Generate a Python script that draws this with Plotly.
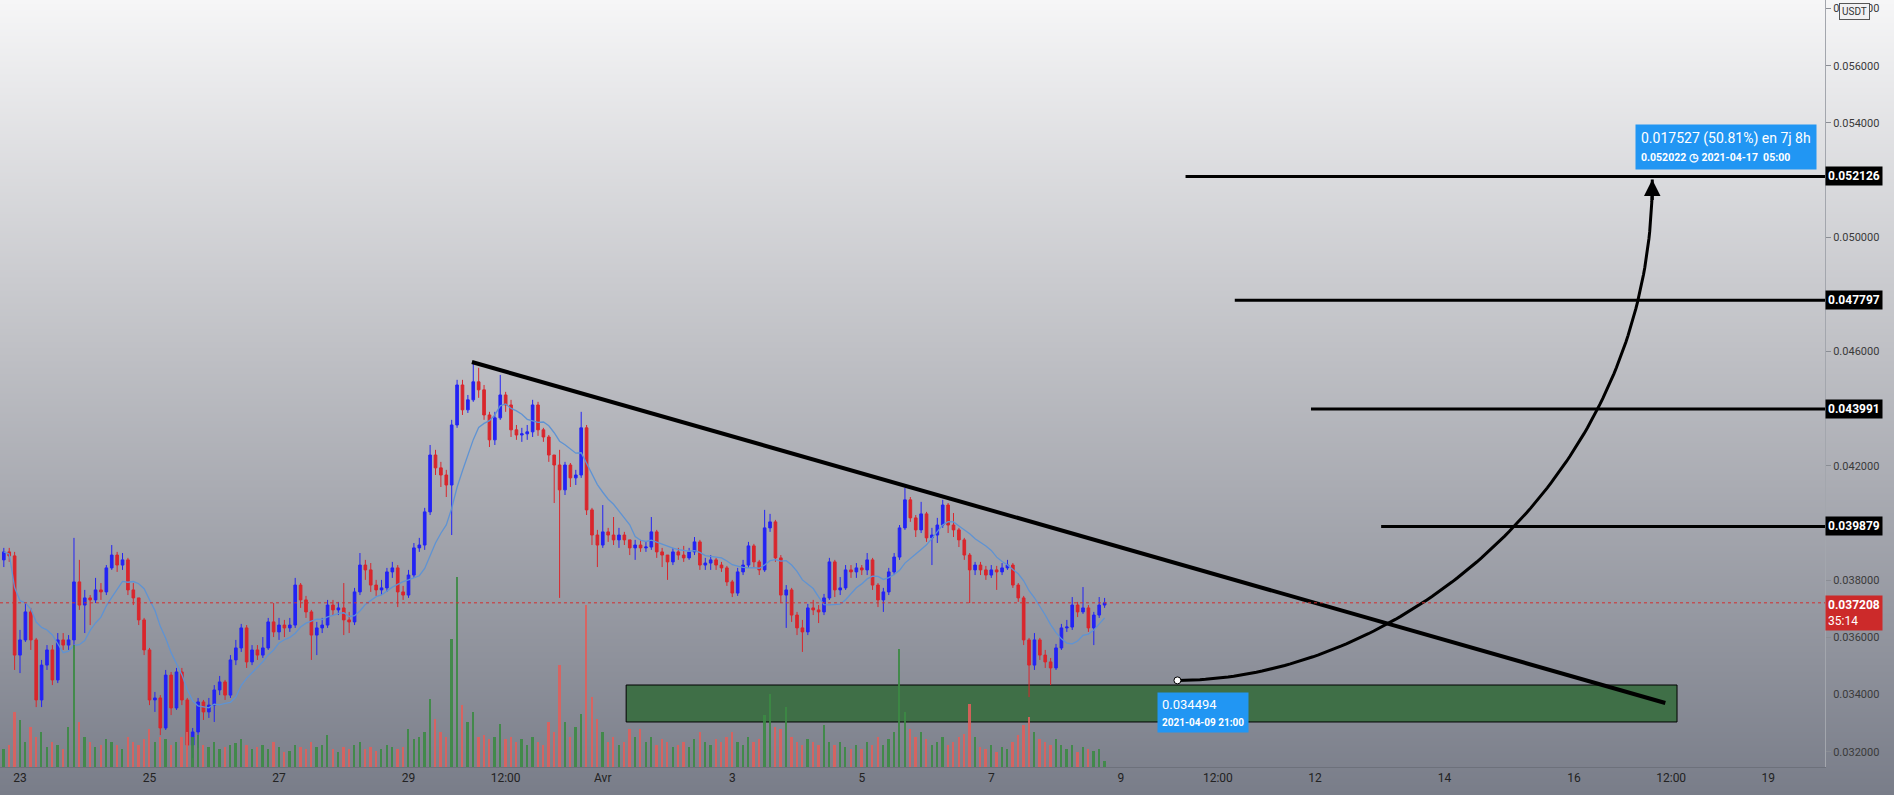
import base64
import struct
import zlib

import numpy as np
import pandas as pd
import plotly.graph_objects as go

# ---------------- data (2-hour candles) ----------------
candle_start = "2021-03-22 18:00"
first_open = 0.03871

close = [
    0.03899, 0.03885, 0.03538, 0.03591, 0.03689, 0.03591, 0.03381, 0.03503, 0.03556, 0.03451,
    0.03591, 0.03573, 0.03591, 0.03794, 0.03713, 0.03738, 0.03731, 0.03766, 0.03759, 0.03843,
    0.03888, 0.03853, 0.03871, 0.03766, 0.03738, 0.03661, 0.03556, 0.03381, 0.03388, 0.03283,
    0.03468, 0.03353, 0.03479, 0.03381, 0.03223, 0.03269, 0.03374, 0.03339, 0.03363, 0.03416,
    0.03444, 0.03398, 0.03521, 0.03563, 0.03633, 0.03514, 0.03556, 0.03538, 0.03563, 0.03654,
    0.03619, 0.03643, 0.03633, 0.03643, 0.03783, 0.03731, 0.03689, 0.03608, 0.03633, 0.03643,
    0.03713, 0.03696, 0.03703, 0.03661, 0.03654, 0.03759, 0.03853, 0.03836, 0.03783, 0.03766,
    0.03773, 0.03829, 0.03843, 0.03759, 0.03748, 0.03818, 0.03913, 0.03923, 0.04039, 0.04238,
    0.04193, 0.04168, 0.04133, 0.04343, 0.04483, 0.04396, 0.04431, 0.04494, 0.04466, 0.04378,
    0.04291, 0.04368, 0.04448, 0.04413, 0.04326, 0.04308, 0.04312, 0.04319, 0.04413, 0.04326,
    0.04301, 0.04238, 0.04203, 0.04116, 0.04203, 0.04158, 0.04168, 0.04333, 0.04046, 0.03958,
    0.03923, 0.03969, 0.03958, 0.03941, 0.03958, 0.03941, 0.03913, 0.03923, 0.03913, 0.03916,
    0.03969, 0.03899, 0.03888, 0.03864, 0.03899, 0.03888, 0.03878, 0.03899, 0.03934, 0.03853,
    0.03860, 0.03871, 0.03853, 0.03843, 0.03794, 0.03755, 0.03829, 0.03853, 0.03920, 0.03864,
    0.03836, 0.03983, 0.04004, 0.03878, 0.03748, 0.03766, 0.03678, 0.03633, 0.03619, 0.03703,
    0.03696, 0.03689, 0.03738, 0.03864, 0.03766, 0.03773, 0.03836, 0.03829, 0.03843, 0.03836,
    0.03871, 0.03783, 0.03731, 0.03759, 0.03829, 0.03881, 0.03983, 0.04081, 0.04018, 0.03976,
    0.04032, 0.03948, 0.03958, 0.03993, 0.04063, 0.03993, 0.03976, 0.03941, 0.03888, 0.03836,
    0.03853, 0.03836, 0.03818, 0.03836, 0.03829, 0.03843, 0.03853, 0.03783, 0.03738, 0.03591,
    0.03503, 0.03591, 0.03538, 0.03514, 0.03493, 0.03563, 0.03633, 0.03636, 0.03713, 0.03689,
    0.03703, 0.03633, 0.03678, 0.03713, 0.037208,
]

high = [
    0.03913, 0.03913, 0.03899, 0.03626, 0.03720, 0.03703, 0.03598, 0.03521, 0.03573, 0.03573,
    0.03615, 0.03615, 0.03608, 0.03948, 0.03871, 0.03766, 0.03748, 0.03808, 0.03790, 0.03853,
    0.03923, 0.03899, 0.03895, 0.03878, 0.03790, 0.03738, 0.03668, 0.03563, 0.03409, 0.03398,
    0.03486, 0.03479, 0.03493, 0.03493, 0.03388, 0.03283, 0.03388, 0.03381, 0.03388, 0.03433,
    0.03465, 0.03451, 0.03538, 0.03591, 0.03647, 0.03643, 0.03573, 0.03573, 0.03601, 0.03668,
    0.03720, 0.03668, 0.03661, 0.03668, 0.03808, 0.03790, 0.03745, 0.03696, 0.03654, 0.03668,
    0.03731, 0.03731, 0.03724, 0.03790, 0.03689, 0.03773, 0.03895, 0.03871, 0.03860, 0.03801,
    0.03801, 0.03843, 0.03864, 0.03853, 0.03780, 0.03836, 0.03930, 0.03948, 0.04053, 0.04273,
    0.04256, 0.04214, 0.04186, 0.04361, 0.04501, 0.04501, 0.04448, 0.04564, 0.04543, 0.04483,
    0.04389, 0.04389, 0.04518, 0.04459, 0.04431, 0.04343, 0.04333, 0.04343, 0.04431, 0.04424,
    0.04333, 0.04308, 0.04238, 0.04256, 0.04214, 0.04210, 0.04186, 0.04389, 0.04343, 0.04053,
    0.03976, 0.04063, 0.03983, 0.04021, 0.03983, 0.03969, 0.03941, 0.03941, 0.03941, 0.03934,
    0.04021, 0.03976, 0.03913, 0.03888, 0.03913, 0.03913, 0.03920, 0.03913, 0.03951, 0.03941,
    0.03878, 0.03888, 0.03878, 0.03864, 0.03850, 0.03801, 0.03843, 0.03871, 0.03934, 0.03927,
    0.03871, 0.04046, 0.04032, 0.04011, 0.03888, 0.03783, 0.03773, 0.03689, 0.03661, 0.03717,
    0.03731, 0.03713, 0.03752, 0.03878, 0.03871, 0.03811, 0.03853, 0.03853, 0.03860, 0.03853,
    0.03895, 0.03878, 0.03790, 0.03773, 0.03843, 0.03895, 0.03993, 0.04123, 0.04091, 0.04028,
    0.04074, 0.04039, 0.03983, 0.04018, 0.04081, 0.04070, 0.04035, 0.03983, 0.03948, 0.03895,
    0.03864, 0.03864, 0.03850, 0.03853, 0.03850, 0.03860, 0.03871, 0.03860, 0.03790, 0.03745,
    0.03598, 0.03615, 0.03598, 0.03556, 0.03528, 0.03577, 0.03647, 0.03661, 0.03741, 0.03724,
    0.03776, 0.03713, 0.03689, 0.03741, 0.03738,
]

low = [
    0.03846, 0.03864, 0.03486, 0.03475, 0.03584, 0.03556, 0.03356, 0.03356, 0.03486, 0.03433,
    0.03440, 0.03556, 0.03556, 0.03573, 0.03696, 0.03615, 0.03643, 0.03720, 0.03731, 0.03748,
    0.03836, 0.03829, 0.03836, 0.03748, 0.03713, 0.03643, 0.03538, 0.03363, 0.03339, 0.03258,
    0.03276, 0.03328, 0.03346, 0.03363, 0.03206, 0.03178, 0.03213, 0.03311, 0.03318, 0.03304,
    0.03398, 0.03381, 0.03388, 0.03503, 0.03549, 0.03493, 0.03503, 0.03521, 0.03528, 0.03556,
    0.03601, 0.03591, 0.03601, 0.03619, 0.03633, 0.03703, 0.03668, 0.03521, 0.03538, 0.03615,
    0.03633, 0.03678, 0.03678, 0.03608, 0.03615, 0.03643, 0.03748, 0.03801, 0.03759, 0.03745,
    0.03748, 0.03759, 0.03808, 0.03706, 0.03731, 0.03738, 0.03808, 0.03899, 0.03906, 0.04028,
    0.04168, 0.04126, 0.04091, 0.03958, 0.04333, 0.04378, 0.04385, 0.04424, 0.04438, 0.04361,
    0.04266, 0.04273, 0.04361, 0.04389, 0.04301, 0.04291, 0.04284, 0.04291, 0.04301, 0.04305,
    0.04284, 0.04214, 0.04070, 0.03738, 0.04098, 0.04126, 0.04133, 0.04158, 0.04028, 0.03923,
    0.03846, 0.03913, 0.03934, 0.03923, 0.03913, 0.03923, 0.03888, 0.03871, 0.03899, 0.03899,
    0.03906, 0.03878, 0.03846, 0.03801, 0.03853, 0.03871, 0.03864, 0.03871, 0.03888, 0.03836,
    0.03836, 0.03836, 0.03836, 0.03829, 0.03780, 0.03741, 0.03745, 0.03818, 0.03843, 0.03843,
    0.03818, 0.03829, 0.03969, 0.03864, 0.03720, 0.03633, 0.03654, 0.03608, 0.03549, 0.03608,
    0.03678, 0.03650, 0.03678, 0.03731, 0.03741, 0.03748, 0.03766, 0.03808, 0.03808, 0.03818,
    0.03818, 0.03766, 0.03706, 0.03689, 0.03748, 0.03818, 0.03871, 0.03976, 0.04004, 0.03951,
    0.03965, 0.03934, 0.03853, 0.03930, 0.03983, 0.03965, 0.03951, 0.03916, 0.03871, 0.03720,
    0.03818, 0.03818, 0.03801, 0.03808, 0.03766, 0.03818, 0.03836, 0.03773, 0.03724, 0.03573,
    0.03391, 0.03486, 0.03521, 0.03493, 0.03433, 0.03486, 0.03556, 0.03619, 0.03626, 0.03671,
    0.03682, 0.03619, 0.03573, 0.03668, 0.03703,
]

volume = [
    18, 22, 55, 47, 25, 40, 30, 35, 20, 25, 22, 18, 40, 122, 45, 30, 25, 20, 22, 28,
    25, 22, 18, 30, 25, 22, 28, 38, 25, 30, 28, 22, 25, 30, 35, 30, 32, 22, 20, 25,
    18, 20, 22, 24, 28, 22, 18, 20, 22, 18, 25, 20, 15, 16, 22, 20, 18, 25, 20, 22,
    32, 18, 15, 20, 18, 22, 25, 18, 20, 16, 18, 22, 20, 18, 20, 38, 28, 30, 35, 68,
    48, 35, 30, 128, 190, 62, 45, 55, 30, 32, 28, 30, 43, 28, 30, 25, 28, 22, 30, 25,
    22, 45, 35, 102, 45, 30, 40, 53, 162, 70, 48, 35, 25, 30, 22, 25, 38, 30, 38, 25,
    30, 22, 28, 25, 20, 22, 25, 20, 28, 35, 25, 22, 28, 25, 30, 35, 25, 22, 30, 25,
    28, 52, 73, 40, 38, 60, 30, 25, 22, 28, 25, 22, 42, 25, 22, 25, 20, 18, 22, 18,
    25, 22, 30, 22, 28, 35, 118, 55, 38, 30, 35, 28, 22, 25, 30, 22, 25, 30, 33, 63,
    30, 20, 18, 22, 15, 20, 18, 25, 32, 42, 50, 35, 28, 25, 22, 28, 22, 18, 22, 15,
    20, 18, 16, 18, 6,
]

last_price = 0.037208
last_timer = "35:14"

# drawings
level_prices = [0.052126, 0.047797, 0.043991, 0.039879]
level_starts = ["2021-04-10 00:00", "2021-04-10 18:15", "2021-04-11 22:30", "2021-04-13 00:30"]
trend_x = ["2021-03-29 23:30", "2021-04-17 09:50"]
trend_y = [0.045634, 0.033704]
zone_x = ["2021-04-01 08:40", "2021-04-17 14:10"]
zone_y = [0.033039, 0.034333]
proj_x = ["2021-04-09 21:00", "2021-04-13 07:00", "2021-04-17 05:00", "2021-04-17 05:00"]
proj_y = [0.034494, 0.034494, 0.041491, 0.052022]
proj_text_top = "0.017527 (50.81%) en 7j 8h"
proj_text_sub = "0.052022 \u25F7 2021-04-17\u00a0\u00a005:00"
start_text_top = "0.034494"
start_text_sub = "2021-04-09 21:00"

x_range = ["2021-03-22 16:35", "2021-04-19 21:01"]
y_range = [0.031464, 0.058299]
tick_vals = ["2021-03-23", "2021-03-25", "2021-03-27", "2021-03-29", "2021-03-30 12:00",
             "2021-04-01", "2021-04-03", "2021-04-05", "2021-04-07", "2021-04-09",
             "2021-04-10 12:00", "2021-04-12", "2021-04-14", "2021-04-16",
             "2021-04-17 12:00", "2021-04-19"]
tick_text = ["23", "25", "27", "29", "12:00", "Avr", "3", "5", "7", "9",
             "12:00", "12", "14", "16", "12:00", "19"]
# price-scale ticks that stay visible (the others sit under the level labels)
price_ticks = [0.032, 0.034, 0.036, 0.038, 0.042, 0.046, 0.050, 0.054, 0.056, 0.058]

# ---------------- derived ----------------
times = pd.date_range(candle_start, periods=len(close), freq="2h")
opens = [first_open] + close[:-1]
ma = pd.Series(close).rolling(10, min_periods=1).mean()
vol_colors = ["#3c8a44" if c >= o else "#e0605c" for o, c in zip(opens, close)]

UP = "#2323f5"
DOWN = "#d9262c"
W, H = 1894, 795
ML, MR, MT, MB = 0, 69, 0, 28


# gradient background png
def gradient_png(h, stops):
    raw = b""
    for yy in range(h):
        f = yy / (h - 1)
        for k in range(len(stops) - 1):
            if stops[k][0] <= f <= stops[k + 1][0]:
                a, b = stops[k], stops[k + 1]
                t = (f - a[0]) / (b[0] - a[0])
                col = [int(round(a[1][j] + (b[1][j] - a[1][j]) * t)) for j in range(3)]
                break
        raw += b"\x00" + bytes(col)

    def chunk(tag, data):
        c = struct.pack(">I", len(data)) + tag + data
        return c + struct.pack(">I", zlib.crc32(tag + data) & 0xFFFFFFFF)

    png = b"\x89PNG\r\n\x1a\n"
    png += chunk(b"IHDR", struct.pack(">IIBBBBB", 1, h, 8, 2, 0, 0, 0))
    png += chunk(b"IDAT", zlib.compress(raw))
    png += chunk(b"IEND", b"")
    return "data:image/png;base64," + base64.b64encode(png).decode()


bg = gradient_png(H, [(0.0, (246, 246, 247)), (0.45, (190, 191, 196)), (1.0, (121, 125, 137))])

fig = go.Figure()

fig.add_trace(go.Bar(
    x=times, y=volume, yaxis="y2", marker=dict(color=vol_colors, line=dict(width=0)),
    width=2.4e6, opacity=0.9, showlegend=False, hoverinfo="skip",
))

fig.add_trace(go.Candlestick(
    x=times, open=opens, high=high, low=low, close=close,
    increasing=dict(line=dict(color=UP, width=1), fillcolor=UP),
    decreasing=dict(line=dict(color=DOWN, width=1), fillcolor=DOWN),
    whiskerwidth=0, showlegend=False, hoverinfo="skip",
))

fig.add_trace(go.Scatter(
    x=times, y=ma, mode="lines", line=dict(color="#5f93d3", width=1.3),
    showlegend=False, hoverinfo="skip",
))

# projection curve (cubic bezier through the drawing's control points)
px_ms = pd.to_datetime(proj_x).astype("int64").to_numpy() / 1e6
t = np.linspace(0, 1, 120)
bx = ((1 - t) ** 3 * px_ms[0] + 3 * (1 - t) ** 2 * t * px_ms[1]
      + 3 * (1 - t) * t ** 2 * px_ms[2] + t ** 3 * px_ms[3])
by = ((1 - t) ** 3 * proj_y[0] + 3 * (1 - t) ** 2 * t * proj_y[1]
      + 3 * (1 - t) * t ** 2 * proj_y[2] + t ** 3 * proj_y[3])
fig.add_trace(go.Scatter(
    x=pd.to_datetime(bx, unit="ms"), y=by, mode="lines",
    line=dict(color="black", width=3), showlegend=False, hoverinfo="skip",
))
fig.add_trace(go.Scatter(
    x=[proj_x[0]], y=[proj_y[0]], mode="markers",
    marker=dict(size=7, color="white", line=dict(color="black", width=1)),
    showlegend=False, hoverinfo="skip",
))

shapes = []
# zone
shapes.append(dict(type="rect", xref="x", yref="y", x0=zone_x[0], x1=zone_x[1],
                   y0=zone_y[0], y1=zone_y[1], fillcolor="#3f6f47",
                   line=dict(color="black", width=1), layer="below"))
# levels
for p, s in zip(level_prices, level_starts):
    shapes.append(dict(type="line", xref="x", yref="y", x0=s, x1="2021-04-21",
                       y0=p, y1=p, line=dict(color="black", width=3)))
# trend line
shapes.append(dict(type="line", xref="x", yref="y", x0=trend_x[0], x1=trend_x[1],
                   y0=trend_y[0], y1=trend_y[1], line=dict(color="black", width=4)))
# last price dotted line
shapes.append(dict(type="line", xref="paper", yref="y", x0=0, x1=1,
                   y0=last_price, y1=last_price,
                   line=dict(color="#d32f2f", width=1, dash="dot")))

annotations = []
for p in level_prices:
    annotations.append(dict(xref="paper", yref="y", x=1, y=p, xanchor="left", yanchor="middle",
                            text=f"<b>{p:.6f}</b>", showarrow=False, bgcolor="#000000",
                            font=dict(color="white", size=12, family="Roboto"), borderpad=2))
annotations.append(dict(xref="paper", yref="y", x=1, y=last_price, xanchor="left", yanchor="top",
                        yshift=8, align="left",
                        text=f"<b>{last_price:.6f}</b><br>{last_timer}", showarrow=False,
                        bgcolor="#cc2a2a", font=dict(color="white", size=12, family="Roboto"),
                        borderpad=2))
annotations.append(dict(xref="paper", yref="paper", x=1, y=1, xanchor="left", yanchor="top",
                        xshift=14, yshift=-3, text="USDT", showarrow=False,
                        bgcolor="#f1f1f3", bordercolor="#555", borderwidth=1, borderpad=2,
                        font=dict(color="#333", size=10, family="Roboto")))
# arrow head
annotations.append(dict(xref="x", yref="y", x=proj_x[3], y=proj_y[3], ax=0, ay=22,
                        text="", showarrow=True, arrowhead=2, arrowsize=1.1,
                        arrowwidth=3, arrowcolor="black"))
# projection label
annotations.append(dict(xref="x", yref="y", x=proj_x[3], y=proj_y[3], xanchor="left",
                        yanchor="bottom", xshift=-17, yshift=9, align="left", showarrow=False,
                        text=f"{proj_text_top}<br><span style='font-size:10.5px'><b>{proj_text_sub}</b></span>",
                        bgcolor="#2196f3", borderpad=5,
                        font=dict(color="white", size=14, family="Roboto")))
annotations.append(dict(xref="x", yref="y", x=proj_x[0], y=proj_y[0], xanchor="left",
                        yanchor="top", xshift=-20, yshift=-12, align="left", showarrow=False,
                        text=f"{start_text_top}<br><span style='font-size:10px'><b>{start_text_sub}</b></span>",
                        bgcolor="#2196f3", borderpad=4,
                        font=dict(color="white", size=13, family="Roboto")))

fig.update_layout(
    width=W, height=H, margin=dict(l=ML, r=MR, t=MT, b=MB),
    paper_bgcolor="rgba(0,0,0,0)", plot_bgcolor="rgba(0,0,0,0)",
    showlegend=False, hovermode=False, bargap=0,
    images=[dict(source=bg, xref="paper", yref="paper", x=0, y=1,
                 sizex=W / (W - ML - MR), sizey=H / (H - MT - MB),
                 xanchor="left", yanchor="top", sizing="stretch", layer="below")],
    shapes=shapes, annotations=annotations,
    xaxis=dict(range=x_range, type="date", rangeslider=dict(visible=False),
               tickvals=tick_vals, ticktext=tick_text, showgrid=False, zeroline=False,
               showline=True, linecolor="#6d717b", linewidth=1, ticks="",
               tickfont=dict(size=12, color="#222", family="Roboto")),
    yaxis=dict(range=y_range, side="right", tickvals=price_ticks,
               ticktext=[f"{v:.6f}" for v in price_ticks], showgrid=False, zeroline=False,
               showline=True, linecolor="#a3a6ad", linewidth=1, ticks="outside", ticklen=5,
               tickcolor="#8a8d94", tickfont=dict(size=11, color="#3a3a3a", family="Roboto")),
    yaxis2=dict(range=[0, H - MT - MB], overlaying="y", visible=False),
    font=dict(family="Roboto"),
)

fig.write_html(
    "out.html",
    config={"displayModeBar": False},
    post_script="document.body.style.margin='0';document.body.style.overflow='hidden';",
)
